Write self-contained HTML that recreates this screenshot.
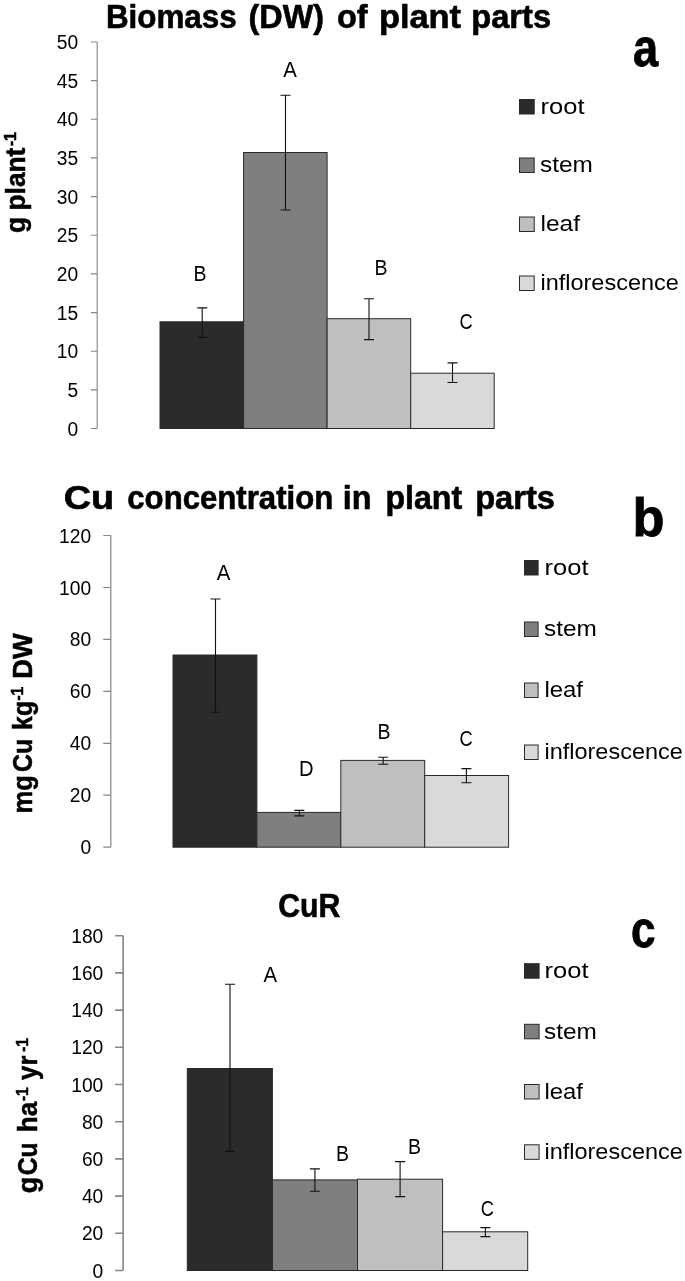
<!DOCTYPE html>
<html lang="en"><head><meta charset="utf-8"><title>Biomass, Cu concentration and CuR of plant parts</title>
<style>
html,body{margin:0;padding:0;background:#fff;}
svg{display:block;font-family:"Liberation Sans",sans-serif;}
</style></head><body>
<svg width="685" height="1281" viewBox="0 0 685 1281">
<rect width="685" height="1281" fill="#fff"/>
<rect x="160.0" y="321.8" width="83.6" height="106.7" fill="#2b2b2b" stroke="#2a2a2a" stroke-width="1"/>
<rect x="243.6" y="152.5" width="83.5" height="276.0" fill="#7f7f7f" stroke="#2a2a2a" stroke-width="1"/>
<rect x="327.1" y="318.7" width="83.6" height="109.8" fill="#bfbfbf" stroke="#2a2a2a" stroke-width="1"/>
<rect x="410.7" y="373.2" width="83.5" height="55.3" fill="#d9d9d9" stroke="#2a2a2a" stroke-width="1"/>
<path d="M202.2 307.9V337.4M197.2 307.9H207.2M197.2 337.4H207.2" stroke="#111" stroke-width="1.1" fill="none"/>
<path d="M285.5 95.3V210.0M280.5 95.3H290.5M280.5 210.0H290.5" stroke="#111" stroke-width="1.1" fill="none"/>
<path d="M369 298.7V339.6M364 298.7H374M364 339.6H374" stroke="#111" stroke-width="1.1" fill="none"/>
<path d="M452.5 362.9V382.5M447.5 362.9H457.5M447.5 382.5H457.5" stroke="#111" stroke-width="1.1" fill="none"/>
<text x="78.2" y="435.5" font-size="19.6" text-anchor="end" textLength="10.7" lengthAdjust="spacingAndGlyphs">0</text>
<text x="78.2" y="396.9" font-size="19.6" text-anchor="end" textLength="10.7" lengthAdjust="spacingAndGlyphs">5</text>
<text x="78.2" y="358.2" font-size="19.6" text-anchor="end" textLength="21.4" lengthAdjust="spacingAndGlyphs">10</text>
<text x="78.2" y="319.6" font-size="19.6" text-anchor="end" textLength="21.4" lengthAdjust="spacingAndGlyphs">15</text>
<text x="78.2" y="280.9" font-size="19.6" text-anchor="end" textLength="21.4" lengthAdjust="spacingAndGlyphs">20</text>
<text x="78.2" y="242.2" font-size="19.6" text-anchor="end" textLength="21.4" lengthAdjust="spacingAndGlyphs">25</text>
<text x="78.2" y="203.6" font-size="19.6" text-anchor="end" textLength="21.4" lengthAdjust="spacingAndGlyphs">30</text>
<text x="78.2" y="164.9" font-size="19.6" text-anchor="end" textLength="21.4" lengthAdjust="spacingAndGlyphs">35</text>
<text x="78.2" y="126.3" font-size="19.6" text-anchor="end" textLength="21.4" lengthAdjust="spacingAndGlyphs">40</text>
<text x="78.2" y="87.6" font-size="19.6" text-anchor="end" textLength="21.4" lengthAdjust="spacingAndGlyphs">45</text>
<text x="78.2" y="49.0" font-size="19.6" text-anchor="end" textLength="21.4" lengthAdjust="spacingAndGlyphs">50</text>
<path d="M97.2 42V428.5M90.9 428.5H97.2M90.9 389.9H97.2M90.9 351.2H97.2M90.9 312.6H97.2M90.9 273.9H97.2M90.9 235.2H97.2M90.9 196.6H97.2M90.9 157.9H97.2M90.9 119.3H97.2M90.9 80.6H97.2M90.9 42.0H97.2" stroke="#868686" stroke-width="1.1" fill="none"/>
<text x="200" y="281" font-size="21.5" text-anchor="middle" textLength="13.0" lengthAdjust="spacingAndGlyphs">B</text>
<text x="290" y="77" font-size="21.5" text-anchor="middle" textLength="13.6" lengthAdjust="spacingAndGlyphs">A</text>
<text x="381" y="275" font-size="21.5" text-anchor="middle" textLength="13.0" lengthAdjust="spacingAndGlyphs">B</text>
<text x="466.2" y="329" font-size="21.5" text-anchor="middle" textLength="13.2" lengthAdjust="spacingAndGlyphs">C</text>
<rect x="519.5" y="99.5" width="14.7" height="14.5" fill="#2b2b2b" stroke="#2a2a2a" stroke-width="1"/>
<text x="540.5" y="113.7" font-size="22.5" textLength="44" lengthAdjust="spacingAndGlyphs">root</text>
<rect x="519.5" y="158" width="14.7" height="14.5" fill="#7f7f7f" stroke="#2a2a2a" stroke-width="1"/>
<text x="540" y="172.3" font-size="22.5" textLength="52.8" lengthAdjust="spacingAndGlyphs">stem</text>
<rect x="519.5" y="217" width="14.7" height="14.5" fill="#bfbfbf" stroke="#2a2a2a" stroke-width="1"/>
<text x="540.5" y="231" font-size="22.5" textLength="39.5" lengthAdjust="spacingAndGlyphs">leaf</text>
<rect x="519.5" y="276" width="14.7" height="14.5" fill="#d9d9d9" stroke="#2a2a2a" stroke-width="1"/>
<text x="540.5" y="290.2" font-size="22.5" textLength="138.3" lengthAdjust="spacingAndGlyphs">inflorescence</text>
<text y="27.5" font-size="32.5" font-weight="bold" stroke="#000" stroke-width="0.6"><tspan x="105.9" textLength="130.8" lengthAdjust="spacingAndGlyphs">Biomass</tspan> <tspan x="248.6" textLength="75.4" lengthAdjust="spacingAndGlyphs">(DW)</tspan> <tspan x="336.9" textLength="30.7" lengthAdjust="spacingAndGlyphs">of</tspan> <tspan x="378.9" textLength="82.1" lengthAdjust="spacingAndGlyphs">plant</tspan> <tspan x="471.2" textLength="79.9" lengthAdjust="spacingAndGlyphs">parts</tspan></text>
<text x="633" y="65.9" font-size="53" font-weight="bold" textLength="25.2" lengthAdjust="spacingAndGlyphs" stroke="#000" stroke-width="0.8">a</text>
<text transform="translate(24.6 231.7) rotate(-90)" font-size="27" font-weight="bold" stroke="#000" stroke-width="0.5"><tspan x="-1.3" y="0" textLength="16.0" lengthAdjust="spacingAndGlyphs">g</tspan> <tspan x="21.2" y="0" textLength="62.9" lengthAdjust="spacingAndGlyphs">plant</tspan><tspan x="85.4" y="-8.8" font-size="17" textLength="14.3" lengthAdjust="spacingAndGlyphs">-1</tspan></text>
<rect x="173.0" y="655.0" width="83.9" height="192.2" fill="#2b2b2b" stroke="#2a2a2a" stroke-width="1"/>
<rect x="256.9" y="812.4" width="83.9" height="34.8" fill="#7f7f7f" stroke="#2a2a2a" stroke-width="1"/>
<rect x="340.8" y="760.4" width="83.9" height="86.8" fill="#bfbfbf" stroke="#2a2a2a" stroke-width="1"/>
<rect x="424.7" y="775.5" width="83.9" height="71.7" fill="#d9d9d9" stroke="#2a2a2a" stroke-width="1"/>
<path d="M215.5 599V712.3M210.5 599H220.5M210.5 712.3H220.5" stroke="#111" stroke-width="1.1" fill="none"/>
<path d="M299.3 810.4V815.9M294.3 810.4H304.3M294.3 815.9H304.3" stroke="#111" stroke-width="1.1" fill="none"/>
<path d="M383.2 757.2V764.2M378.2 757.2H388.2M378.2 764.2H388.2" stroke="#111" stroke-width="1.1" fill="none"/>
<path d="M466.4 768.6V782.8M461.4 768.6H471.4M461.4 782.8H471.4" stroke="#111" stroke-width="1.1" fill="none"/>
<text x="91.2" y="854.2" font-size="19.6" text-anchor="end" textLength="10.7" lengthAdjust="spacingAndGlyphs">0</text>
<text x="91.2" y="802.2" font-size="19.6" text-anchor="end" textLength="21.4" lengthAdjust="spacingAndGlyphs">20</text>
<text x="91.2" y="750.3" font-size="19.6" text-anchor="end" textLength="21.4" lengthAdjust="spacingAndGlyphs">40</text>
<text x="91.2" y="698.4" font-size="19.6" text-anchor="end" textLength="21.4" lengthAdjust="spacingAndGlyphs">60</text>
<text x="91.2" y="646.4" font-size="19.6" text-anchor="end" textLength="21.4" lengthAdjust="spacingAndGlyphs">80</text>
<text x="91.2" y="594.5" font-size="19.6" text-anchor="end" textLength="32.1" lengthAdjust="spacingAndGlyphs">100</text>
<text x="91.2" y="542.5" font-size="19.6" text-anchor="end" textLength="32.1" lengthAdjust="spacingAndGlyphs">120</text>
<path d="M110.8 535.5V847.2M103.3 847.2H110.8M103.3 795.2H110.8M103.3 743.3H110.8M103.3 691.4H110.8M103.3 639.4H110.8M103.3 587.5H110.8M103.3 535.5H110.8" stroke="#868686" stroke-width="1.2" fill="none"/>
<text x="223.5" y="580" font-size="21.5" text-anchor="middle" textLength="13.6" lengthAdjust="spacingAndGlyphs">A</text>
<text x="306.4" y="775.5" font-size="21.5" text-anchor="middle" textLength="14.6" lengthAdjust="spacingAndGlyphs">D</text>
<text x="384" y="739.3" font-size="21.5" text-anchor="middle" textLength="13.0" lengthAdjust="spacingAndGlyphs">B</text>
<text x="466" y="746" font-size="21.5" text-anchor="middle" textLength="13.2" lengthAdjust="spacingAndGlyphs">C</text>
<rect x="524.5" y="560.5" width="13.6" height="14.5" fill="#2b2b2b" stroke="#2a2a2a" stroke-width="1"/>
<text x="544.5" y="574.5" font-size="22.5" textLength="44" lengthAdjust="spacingAndGlyphs">root</text>
<rect x="524.5" y="622" width="13.6" height="14.5" fill="#7f7f7f" stroke="#2a2a2a" stroke-width="1"/>
<text x="544" y="635.8" font-size="22.5" textLength="52.8" lengthAdjust="spacingAndGlyphs">stem</text>
<rect x="524.5" y="683" width="13.6" height="14.5" fill="#bfbfbf" stroke="#2a2a2a" stroke-width="1"/>
<text x="544.5" y="696.9" font-size="22.5" textLength="38.5" lengthAdjust="spacingAndGlyphs">leaf</text>
<rect x="524.5" y="745" width="13.6" height="14.5" fill="#d9d9d9" stroke="#2a2a2a" stroke-width="1"/>
<text x="544.5" y="758.5" font-size="22.5" textLength="138.3" lengthAdjust="spacingAndGlyphs">inflorescence</text>
<text y="508.8" font-size="32.5" font-weight="bold" stroke="#000" stroke-width="0.6"><tspan x="63.8" textLength="50.4" lengthAdjust="spacingAndGlyphs">Cu</tspan> <tspan x="127.3" textLength="205.9" lengthAdjust="spacingAndGlyphs">concentration</tspan> <tspan x="342.7" textLength="28.7" lengthAdjust="spacingAndGlyphs">in</tspan> <tspan x="385.4" textLength="76.7" lengthAdjust="spacingAndGlyphs">plant</tspan> <tspan x="475.2" textLength="79.8" lengthAdjust="spacingAndGlyphs">parts</tspan></text>
<text x="632.5" y="536.3" font-size="53" font-weight="bold" textLength="32" lengthAdjust="spacingAndGlyphs" stroke="#000" stroke-width="0.8">b</text>
<text transform="translate(32 812.2) rotate(-90)" font-size="27" font-weight="bold" stroke="#000" stroke-width="0.5"><tspan x="-1.3" y="0" textLength="38.3" lengthAdjust="spacingAndGlyphs">mg</tspan> <tspan x="40.1" y="0" textLength="33.2" lengthAdjust="spacingAndGlyphs">Cu</tspan> <tspan x="82.3" y="0" textLength="29.0" lengthAdjust="spacingAndGlyphs">kg</tspan><tspan x="111.4" y="-8.8" font-size="17" textLength="14.1" lengthAdjust="spacingAndGlyphs">-1</tspan> <tspan x="133.4" y="0" textLength="45.5" lengthAdjust="spacingAndGlyphs">DW</tspan></text>
<rect x="187.3" y="1068.5" width="85.1" height="202.0" fill="#2b2b2b" stroke="#2a2a2a" stroke-width="1"/>
<rect x="272.4" y="1179.9" width="85.1" height="90.6" fill="#7f7f7f" stroke="#2a2a2a" stroke-width="1"/>
<rect x="357.5" y="1179.2" width="85.1" height="91.3" fill="#bfbfbf" stroke="#2a2a2a" stroke-width="1"/>
<rect x="442.6" y="1231.8" width="85.1" height="38.7" fill="#d9d9d9" stroke="#2a2a2a" stroke-width="1"/>
<path d="M230 984.2V1151.4M225 984.2H235M225 1151.4H235" stroke="#111" stroke-width="1.1" fill="none"/>
<path d="M314.9 1168.9V1191.3M309.9 1168.9H319.9M309.9 1191.3H319.9" stroke="#111" stroke-width="1.1" fill="none"/>
<path d="M400.1 1161.6V1196.6M395.1 1161.6H405.1M395.1 1196.6H405.1" stroke="#111" stroke-width="1.1" fill="none"/>
<path d="M485.4 1227.6V1236.6M480.4 1227.6H490.4M480.4 1236.6H490.4" stroke="#111" stroke-width="1.1" fill="none"/>
<text x="103.3" y="1277.5" font-size="19.6" text-anchor="end" textLength="10.7" lengthAdjust="spacingAndGlyphs">0</text>
<text x="103.3" y="1240.3" font-size="19.6" text-anchor="end" textLength="21.4" lengthAdjust="spacingAndGlyphs">20</text>
<text x="103.3" y="1203.1" font-size="19.6" text-anchor="end" textLength="21.4" lengthAdjust="spacingAndGlyphs">40</text>
<text x="103.3" y="1165.9" font-size="19.6" text-anchor="end" textLength="21.4" lengthAdjust="spacingAndGlyphs">60</text>
<text x="103.3" y="1128.7" font-size="19.6" text-anchor="end" textLength="21.4" lengthAdjust="spacingAndGlyphs">80</text>
<text x="103.3" y="1091.5" font-size="19.6" text-anchor="end" textLength="32.1" lengthAdjust="spacingAndGlyphs">100</text>
<text x="103.3" y="1054.3" font-size="19.6" text-anchor="end" textLength="32.1" lengthAdjust="spacingAndGlyphs">120</text>
<text x="103.3" y="1017.1" font-size="19.6" text-anchor="end" textLength="32.1" lengthAdjust="spacingAndGlyphs">140</text>
<text x="103.3" y="979.9" font-size="19.6" text-anchor="end" textLength="32.1" lengthAdjust="spacingAndGlyphs">160</text>
<text x="103.3" y="942.7" font-size="19.6" text-anchor="end" textLength="32.1" lengthAdjust="spacingAndGlyphs">180</text>
<path d="M123.1 935.7V1270.5M115.1 1270.5H123.1M115.1 1233.3H123.1M115.1 1196.1H123.1M115.1 1158.9H123.1M115.1 1121.7H123.1M115.1 1084.5H123.1M115.1 1047.3H123.1M115.1 1010.1H123.1M115.1 972.9H123.1M115.1 935.7H123.1" stroke="#868686" stroke-width="1.6" fill="none"/>
<text x="270.2" y="981.5" font-size="21.5" text-anchor="middle" textLength="13.6" lengthAdjust="spacingAndGlyphs">A</text>
<text x="342.5" y="1161.3" font-size="21.5" text-anchor="middle" textLength="13.0" lengthAdjust="spacingAndGlyphs">B</text>
<text x="414.5" y="1154.2" font-size="21.5" text-anchor="middle" textLength="13.0" lengthAdjust="spacingAndGlyphs">B</text>
<text x="487.4" y="1216" font-size="21.5" text-anchor="middle" textLength="13.2" lengthAdjust="spacingAndGlyphs">C</text>
<rect x="524.5" y="963.7" width="14.6" height="14.5" fill="#2b2b2b" stroke="#2a2a2a" stroke-width="1"/>
<text x="544.5" y="978" font-size="22.5" textLength="44" lengthAdjust="spacingAndGlyphs">root</text>
<rect x="524.5" y="1024.3" width="14.6" height="14.5" fill="#7f7f7f" stroke="#2a2a2a" stroke-width="1"/>
<text x="544" y="1038.5" font-size="22.5" textLength="52.8" lengthAdjust="spacingAndGlyphs">stem</text>
<rect x="524.5" y="1084.5" width="14.6" height="14.5" fill="#bfbfbf" stroke="#2a2a2a" stroke-width="1"/>
<text x="544.5" y="1098.6" font-size="22.5" textLength="38.5" lengthAdjust="spacingAndGlyphs">leaf</text>
<rect x="524.5" y="1144.8" width="14.6" height="14.5" fill="#d9d9d9" stroke="#2a2a2a" stroke-width="1"/>
<text x="544.5" y="1158.8" font-size="22.5" textLength="138.3" lengthAdjust="spacingAndGlyphs">inflorescence</text>
<text y="916.6" font-size="32.5" font-weight="bold" stroke="#000" stroke-width="0.6"><tspan x="278.2" textLength="62.1" lengthAdjust="spacingAndGlyphs">CuR</tspan></text>
<text x="631" y="947.3" font-size="52" font-weight="bold" textLength="24.5" lengthAdjust="spacingAndGlyphs" stroke="#000" stroke-width="0.8">c</text>
<text transform="translate(37 1191.9) rotate(-90)" font-size="27" font-weight="bold" stroke="#000" stroke-width="0.5"><tspan x="-1.3" y="0" textLength="16.5" lengthAdjust="spacingAndGlyphs">g</tspan> <tspan x="16.7" y="0" textLength="32.9" lengthAdjust="spacingAndGlyphs">Cu</tspan> <tspan x="59.7" y="0" textLength="30.5" lengthAdjust="spacingAndGlyphs">ha</tspan><tspan x="90.6" y="-8.8" font-size="17" textLength="14.1" lengthAdjust="spacingAndGlyphs">-1</tspan> <tspan x="112.0" y="0" textLength="24.3" lengthAdjust="spacingAndGlyphs">yr</tspan><tspan x="139.8" y="-8.8" font-size="17" textLength="14.1" lengthAdjust="spacingAndGlyphs">-1</tspan></text>
</svg>
</body></html>
